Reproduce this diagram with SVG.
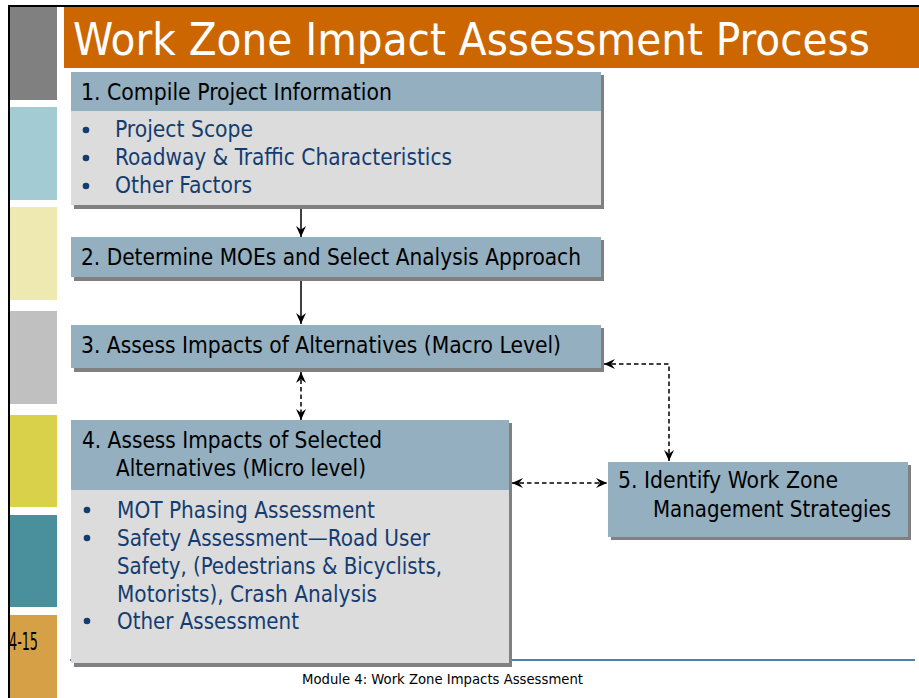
<svg xmlns="http://www.w3.org/2000/svg" width="919" height="698" viewBox="0 0 919 698">
<style>
.t{font-family:'DejaVu Sans Condensed','DejaVu Sans',sans-serif}
.hd{fill:#93afc0}
.bd{fill:#dcdcdc}
.sh{fill:#808080}
.ht{font-size:23.5px;fill:#000}
.bt{font-size:23.5px;fill:#143c70}
.dot{fill:#143c70}
.ln{stroke:#000;stroke-width:1.5;fill:none}
.dash{stroke-dasharray:4.5 3}
</style>
<defs>
<marker id="ah" viewBox="0 0 10 10" refX="10" refY="5" markerWidth="11" markerHeight="11" markerUnits="userSpaceOnUse" orient="auto-start-reverse">
<path d="M0,0.5 L10,5 L0,9.5 L3.5,5 z" fill="#000"/>
</marker>
</defs>
<rect width="919" height="698" fill="#fff"/>
<g id="frame">
<rect x="8" y="5" width="911" height="2" fill="#000"/>
<rect x="8" y="5" width="2" height="693" fill="#000"/>
<rect x="10" y="7" width="47" height="93" fill="#808080"/>
<rect x="10" y="107" width="47" height="93" fill="#a3cbd4"/>
<rect x="10" y="207" width="47" height="93" fill="#ede9b0"/>
<rect x="10" y="311" width="47" height="93" fill="#c0c0c0"/>
<rect x="10" y="415" width="47" height="92" fill="#d9d14a"/>
<rect x="10" y="515" width="47" height="92" fill="#4a8f9c"/>
<rect x="10" y="615" width="47" height="83" fill="#d6a146"/>
<text x="9" y="650" font-family="'Liberation Sans Narrow','DejaVu Sans Condensed',sans-serif" font-size="24" fill="#000" textLength="29" lengthAdjust="spacingAndGlyphs">4-15</text>
</g>
<g id="title">
<rect x="64" y="7" width="855" height="61" fill="#cc6600"/>
<text class="t" x="73" y="55" font-size="45" fill="#fff" textLength="797" lengthAdjust="spacingAndGlyphs">Work Zone Impact Assessment Process</text>
</g>
<g id="footer">
<line x1="70" y1="660" x2="915" y2="660" stroke="#4f81b0" stroke-width="2"/>
<text class="t" x="302" y="684" font-size="13.5" fill="#000" textLength="281" lengthAdjust="spacingAndGlyphs">Module 4: Work Zone Impacts Assessment</text>
</g>
<g id="node1">
<rect class="sh" x="74" y="75" width="530" height="134"/>
<rect class="bd" x="71" y="111" width="530" height="94"/>
<rect class="hd" x="71" y="72" width="530" height="39"/>
<text class="t ht" x="81" y="100" textLength="311" lengthAdjust="spacingAndGlyphs">1. Compile Project Information</text>
<circle class="dot" cx="86" cy="130" r="3.3"/>
<circle class="dot" cx="86" cy="158" r="3.3"/>
<circle class="dot" cx="86" cy="186" r="3.3"/>
<text class="t bt" x="115" y="137" textLength="138" lengthAdjust="spacingAndGlyphs">Project Scope</text>
<text class="t bt" x="115" y="165" textLength="337" lengthAdjust="spacingAndGlyphs">Roadway &amp; Traffic Characteristics</text>
<text class="t bt" x="115" y="193" textLength="137" lengthAdjust="spacingAndGlyphs">Other Factors</text>
</g>
<g id="node2">
<rect class="sh" x="74" y="240" width="530" height="41"/>
<rect class="hd" x="71" y="237" width="530" height="40"/>
<text class="t ht" x="81" y="265" textLength="500" lengthAdjust="spacingAndGlyphs">2. Determine MOEs and Select Analysis Approach</text>
</g>
<g id="node3">
<rect class="sh" x="74" y="328" width="530" height="44"/>
<rect class="hd" x="71" y="325" width="530" height="43"/>
<text class="t ht" x="81" y="353" textLength="480" lengthAdjust="spacingAndGlyphs">3. Assess Impacts of Alternatives (Macro Level)</text>
</g>
<g id="node4">
<rect class="sh" x="74" y="423" width="438" height="244"/>
<rect class="bd" x="71" y="490" width="438" height="173"/>
<rect class="hd" x="71" y="420" width="438" height="70"/>
<text class="t ht" x="82" y="448" textLength="300" lengthAdjust="spacingAndGlyphs">4. Assess Impacts of Selected</text>
<text class="t ht" x="116" y="476" textLength="250" lengthAdjust="spacingAndGlyphs">Alternatives (Micro level)</text>
<circle class="dot" cx="87" cy="510" r="3.3"/>
<circle class="dot" cx="87" cy="538" r="3.3"/>
<circle class="dot" cx="87" cy="621" r="3.3"/>
<text class="t bt" x="117" y="518" textLength="258" lengthAdjust="spacingAndGlyphs">MOT Phasing Assessment</text>
<text class="t bt" x="117" y="546" textLength="313" lengthAdjust="spacingAndGlyphs">Safety Assessment—Road User</text>
<text class="t bt" x="117" y="574" textLength="325" lengthAdjust="spacingAndGlyphs">Safety, (Pedestrians &amp; Bicyclists,</text>
<text class="t bt" x="117" y="602" textLength="260" lengthAdjust="spacingAndGlyphs">Motorists), Crash Analysis</text>
<text class="t bt" x="117" y="629" textLength="182" lengthAdjust="spacingAndGlyphs">Other Assessment</text>
</g>
<g id="node5">
<rect class="sh" x="611" y="465" width="300" height="75"/>
<rect class="hd" x="608" y="462" width="300" height="75"/>
<text class="t ht" x="618" y="488" textLength="220" lengthAdjust="spacingAndGlyphs">5. Identify Work Zone</text>
<text class="t ht" x="653" y="517" textLength="238" lengthAdjust="spacingAndGlyphs">Management Strategies</text>
</g>
<g id="connectors">
<line class="ln" x1="301" y1="209" x2="301" y2="237" marker-end="url(#ah)"/>
<line class="ln" x1="301" y1="281" x2="301" y2="324" marker-end="url(#ah)"/>
<line class="ln dash" x1="301" y1="372" x2="301" y2="420" marker-start="url(#ah)" marker-end="url(#ah)"/>
<path class="ln dash" d="M604,364 H669 V461" marker-start="url(#ah)" marker-end="url(#ah)"/>
<line class="ln dash" x1="512" y1="483" x2="607" y2="483" marker-start="url(#ah)" marker-end="url(#ah)"/>
</g>
</svg>
